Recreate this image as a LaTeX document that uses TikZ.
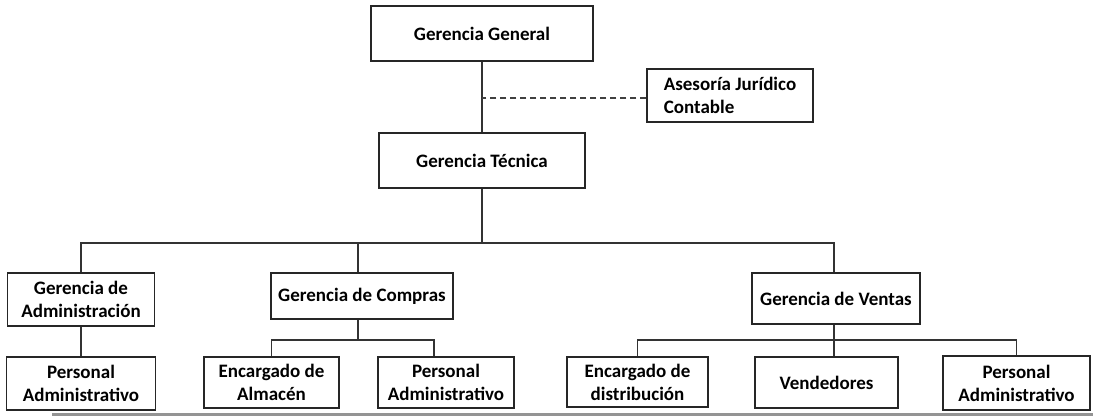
\documentclass[tikz,border=0pt]{standalone}
\usepackage{fontspec}
\setmainfont{Carlito}
\tikzset{
  orgbox/.style={draw=black!85, line width=1.3pt, inner sep=0pt, align=center,
    font=\fontsize{19}{23}\selectfont\bfseries},
  link/.style={draw=black!80, line width=1.3pt},
  dashlink/.style={draw=black!75, line width=1.3pt, dash pattern=on 6pt off 4pt}
}
\begin{document}
\begin{tikzpicture}[x=1pt,y=-1pt]
\useasboundingbox (0,0) rectangle (1093,416);
% top
\node[orgbox, minimum width=222pt, minimum height=55pt] (GG) at (482,33.5) {Gerencia General};
\node[orgbox, minimum width=166pt, minimum height=53pt, align=left] (AJ) at (730,95.5) {Asesoría Jurídico\\Contable};
\node[orgbox, minimum width=206pt, minimum height=55pt] (GT) at (482,160.5) {Gerencia Técnica};
% level 2
\node[orgbox, minimum width=147pt, minimum height=53pt] (GA) at (81,299.5) {Gerencia de\\Administración};
\node[orgbox, minimum width=182pt, minimum height=46pt] (GC) at (362,296) {Gerencia de Compras};
\node[orgbox, minimum width=168pt, minimum height=51pt] (GV) at (836,298.5) {Gerencia de Ventas};
% level 3
\node[orgbox, minimum width=149pt, minimum height=53pt] (PA1) at (81,383.5) {Personal\\Administrativo};
\node[orgbox, minimum width=135pt, minimum height=51pt] (EA) at (271.5,382.5) {Encargado de\\Almacén};
\node[orgbox, minimum width=136pt, minimum height=51pt] (PA2) at (446,382.5) {Personal\\Administrativo};
\node[orgbox, minimum width=141pt, minimum height=50pt] (ED) at (637.5,382) {Encargado de\\distribución};
\node[orgbox, minimum width=143pt, minimum height=51pt] (VE) at (826.5,382.5) {Vendedores};
\node[orgbox, minimum width=147pt, minimum height=54pt] (PA3) at (1016.5,383) {Personal\\Administrativo};
% helper coordinates
\coordinate (bus) at (0,243);
\coordinate (subbus) at (0,340);
\coordinate (dashy) at (0,98);
\coordinate (xc) at (358,0);
\coordinate (xp) at (434,0);
\coordinate (xv) at (834,0);
% connectors
\draw[link] (GG.south) -- (GT.north);
\draw[dashlink] (AJ.west |- dashy) -- (GG.south |- dashy);
\draw[link] (GT.south) -- (GT.south |- bus);
\draw[link] (GA.north) -- (GA.north |- bus) -- (xv |- bus) -- (xv |- GV.north);
\draw[link] (xc |- GC.north) -- (xc |- bus);
\draw[link] (GA.south) -- (PA1.north);
\draw[link] (xc |- GC.south) -- (xc |- subbus);
\draw[link] (EA.north) -- (EA.north |- subbus) -- (xp |- subbus) -- (xp |- PA2.north);
\draw[link] (xv |- GV.south) -- (xv |- VE.north);
\draw[link] (ED.north) -- (ED.north |- subbus) -- (PA3.north |- subbus) -- (PA3.north);
% bottom grey rule
\fill[black!42] (52,413) rectangle (1093,416);
\end{tikzpicture}
\end{document}
